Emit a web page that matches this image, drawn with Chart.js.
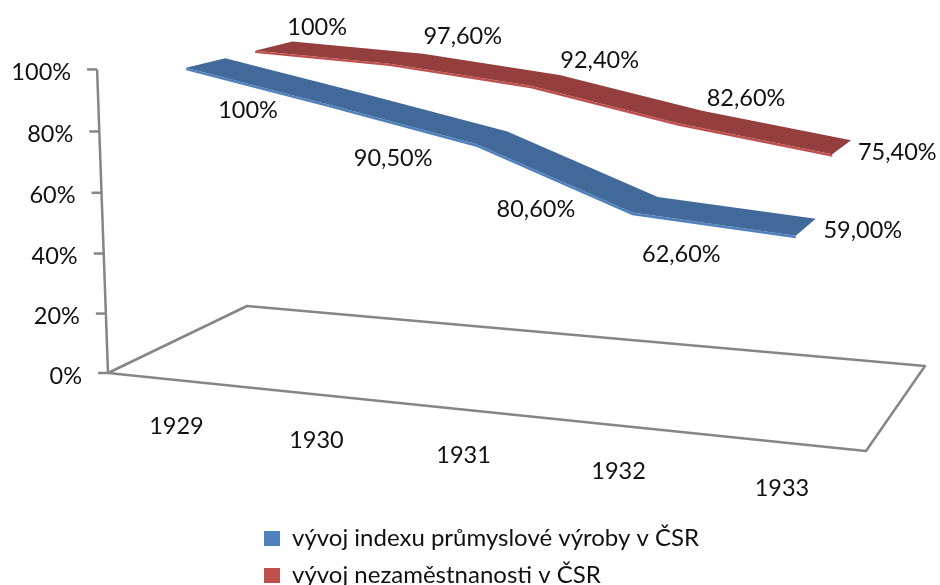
<!DOCTYPE html>
<html>
<head>
<meta charset="utf-8">
<style>
  html, body { margin: 0; padding: 0; background: #fff; }
  #wrap { position: relative; width: 940px; height: 585px; }
</style>
<script src="https://cdn.jsdelivr.net/npm/chart.js@4"></script>
</head>
<body>
<div id="wrap"><canvas id="myChart"></canvas></div>
<script>
const years = ["1929", "1930", "1931", "1932", "1933"];
const industryName = "vývoj indexu průmyslové výroby v ČSR";
const industryValues = [100, 90.5, 80.6, 62.6, 59.0];
const industryLabels = ["100%", "90,50%", "80,60%", "62,60%", "59,00%"];
const jobsName = "vývoj nezaměstnanosti v ČSR";
const jobsValues = [100, 97.6, 92.4, 82.6, 75.4];
const jobsLabels = ["100%", "97,60%", "92,40%", "82,60%", "75,40%"];

const FONT = "Lato, 'Open Sans', sans-serif";
const TEXT = "#111111";
const AXIS = "#868686";

// floor of the 3d box on screen, the excel chart has a bit of perspective
const floorQuad = [[108, 373], [866, 451], [925, 366], [247, 306]];
const vertical = { x: 515, y: 11700, k: -0.0261 };

function makeProjection(q) {
  const dx1 = q[1][0] - q[2][0], dx2 = q[3][0] - q[2][0], sx = q[0][0] - q[1][0] + q[2][0] - q[3][0];
  const dy1 = q[1][1] - q[2][1], dy2 = q[3][1] - q[2][1], sy = q[0][1] - q[1][1] + q[2][1] - q[3][1];
  const det = dx1 * dy2 - dx2 * dy1;
  const g = (sx * dy2 - dx2 * sy) / det;
  const h = (dx1 * sy - sx * dy1) / det;
  const a = q[1][0] - q[0][0] + g * q[1][0], b = q[3][0] - q[0][0] + h * q[3][0];
  const d = q[1][1] - q[0][1] + g * q[1][1], e = q[3][1] - q[0][1] + h * q[3][1];
  return (u, w, v) => {
    const zx = vertical.k * vertical.x * v, zy = vertical.k * vertical.y * v, zw = vertical.k * v;
    const den = g * u + h * w + 1 + zw;
    return { x: (a * u + b * w + q[0][0] + zx) / den, y: (d * u + e * w + q[0][1] + zy) / den };
  };
}
const project = makeProjection(floorQuad);

// per series: depth band, colours and where its value labels go
const ribbons = [
  { near: 0.13, far: 0.4, top: "#41699a", edge: "#4f81bd", labels: industryLabels,
    offsets: [[62, 43], [65, 54], [59, 65], [49, 42], [67, -5]] },
  { near: 0.62, far: 0.91, top: "#943e3e", edge: "#c0504d", labels: jobsLabels,
    offsets: [[62, -23], [73, -27], [69, -25], [68, -25], [65, -2]] },
];

function fillPoly(ctx, pts, color) {
  ctx.fillStyle = color;
  ctx.beginPath();
  pts.forEach((p, i) => (i ? ctx.lineTo(p.x, p.y) : ctx.moveTo(p.x, p.y)));
  ctx.closePath();
  ctx.fill();
}

const box3d = {
  id: "box3d",
  afterDatasetsDraw(chart) {
    const { ctx, scales: { x, y } } = chart;
    const toU = (px) => (px - x.left) / x.width;
    const toV = (py) => (y.bottom - py) / y.height;

    ctx.save();
    // floor and value axis
    ctx.strokeStyle = AXIS;
    ctx.lineWidth = 2.5;
    ctx.lineJoin = "round";
    ctx.beginPath();
    [[0, 0], [1, 0], [1, 1], [0, 1]].forEach((c, i) => {
      const p = project(c[0], c[1], 0);
      i ? ctx.lineTo(p.x, p.y) : ctx.moveTo(p.x, p.y);
    });
    ctx.closePath();
    ctx.stroke();

    const p0 = project(0, 0, 0), p1 = project(0, 0, 1);
    ctx.beginPath();
    ctx.moveTo(p0.x, p0.y);
    ctx.lineTo(p1.x, p1.y);
    ctx.stroke();

    ctx.textBaseline = "middle";
    ctx.font = "23.5px " + FONT;
    ctx.fillStyle = TEXT;
    ctx.textAlign = "right";
    y.ticks.forEach((t) => {
      const p = project(0, 0, toV(y.getPixelForValue(t.value)));
      ctx.beginPath();
      ctx.moveTo(p.x - 10, p.y);
      ctx.lineTo(p.x, p.y);
      ctx.stroke();
      ctx.fillText(t.label, p.x - 26, p.y + 3);
    });

    ctx.textAlign = "center";
    x.getLabels().forEach((label, i) => {
      const p = project(toU(x.getPixelForValue(i)), 0, 0);
      ctx.fillText(label, p.x + 1, p.y + 46);
    });

    // ribbons, back one first
    chart.data.datasets.map((d, i) => i).reverse().forEach((di) => {
      const r = ribbons[di];
      const pts = chart.getDatasetMeta(di).data.map((el) => ({ u: toU(el.x), v: toV(el.y) }));
      const thick = 0.008;
      const nearTop = pts.map((p) => project(p.u, r.near, p.v));
      const nearLow = pts.map((p) => project(p.u, r.near, p.v - thick)).reverse();
      const farTop = pts.map((p) => project(p.u, r.far, p.v)).reverse();
      fillPoly(ctx, nearTop.concat(nearLow), r.edge);
      fillPoly(ctx, nearTop.concat(farTop), r.top);
      ctx.fillStyle = TEXT;
      nearTop.forEach((p, i) => {
        ctx.fillText(r.labels[i], p.x + r.offsets[i][0], p.y + r.offsets[i][1]);
      });
    });
    ctx.restore();
  },
};

new Chart(document.getElementById("myChart"), {
  type: "line",
  data: {
    labels: years,
    datasets: [
      { label: industryName, data: industryValues, backgroundColor: "#4f81bd", borderWidth: 0, showLine: false, pointRadius: 0 },
      { label: jobsName, data: jobsValues, backgroundColor: "#c0504d", borderWidth: 0, showLine: false, pointRadius: 0 },
    ],
  },
  options: {
    animation: false,
    responsive: true,
    maintainAspectRatio: false,
    layout: { padding: { left: 251, right: 200, top: 20, bottom: -12.5 } },
    scales: {
      x: { display: false, offset: true },
      y: { display: false, min: 0, max: 100, ticks: { stepSize: 20, callback: (v) => v + "%" } },
    },
    plugins: {
      tooltip: { enabled: false },
      legend: {
        position: "bottom",
        align: "start",
        labels: { boxWidth: 16, boxHeight: 15, padding: 13, color: TEXT, font: { family: FONT, size: 24 } },
      },
    },
  },
  plugins: [box3d],
});
</script>
</body>
</html>
